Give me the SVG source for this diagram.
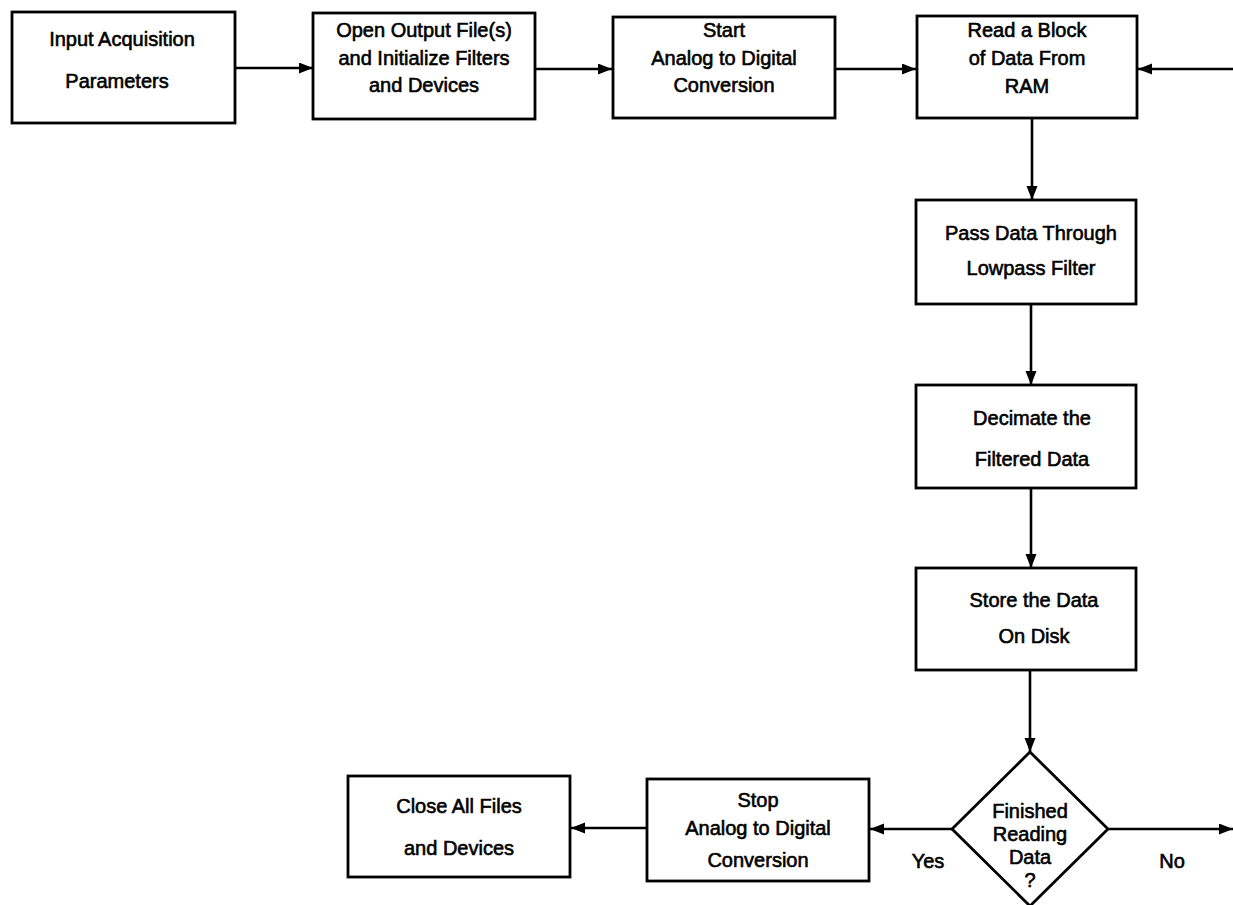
<svg xmlns="http://www.w3.org/2000/svg" width="1233" height="905" viewBox="0 0 1233 905">
  <style>
    .box { fill: #fff; stroke: #000; stroke-width: 2.8; }
    .conn { fill: none; stroke: #000; stroke-width: 2.6; }
    .lbl { font-family: "Liberation Sans", Arial, sans-serif; font-size: 20px; fill: #000; stroke: #000; stroke-width: 0.6; text-anchor: middle; }
  </style>
  <defs>
    <marker id="arrow" markerUnits="userSpaceOnUse" markerWidth="15" markerHeight="12" refX="14" refY="5.5" orient="auto">
      <path d="M0,0 L14,5.5 L0,11 z" fill="#000"/>
    </marker>
  </defs>
  <rect width="1233" height="905" fill="#fff"/>

  <!-- flow connectors -->
  <g id="connectors">
    <line class="conn" x1="235" y1="68" x2="313" y2="68" marker-end="url(#arrow)"/>
    <line class="conn" x1="535" y1="69" x2="612" y2="69" marker-end="url(#arrow)"/>
    <line class="conn" x1="835" y1="69" x2="916" y2="69" marker-end="url(#arrow)"/>
    <line class="conn" x1="1233" y1="69" x2="1138" y2="69" marker-end="url(#arrow)"/>
    <line class="conn" x1="1032" y1="118" x2="1032" y2="200" marker-end="url(#arrow)"/>
    <line class="conn" x1="1031" y1="304" x2="1031" y2="385" marker-end="url(#arrow)"/>
    <line class="conn" x1="1031" y1="488" x2="1031" y2="568" marker-end="url(#arrow)"/>
    <line class="conn" x1="1030" y1="670" x2="1030" y2="752" marker-end="url(#arrow)"/>
    <line class="conn" x1="1108" y1="829" x2="1233" y2="829" marker-end="url(#arrow)"/>
    <line class="conn" x1="952" y1="829" x2="870" y2="829" marker-end="url(#arrow)"/>
    <line class="conn" x1="647" y1="828" x2="571" y2="828" marker-end="url(#arrow)"/>
    <text class="lbl" x="928" y="868">Yes</text>
    <text class="lbl" x="1172" y="868">No</text>
  </g>

  <g id="input-params">
    <rect class="box" x="12" y="12" width="223" height="111"/>
    <text class="lbl" x="122" y="46">Input Acquisition</text>
    <text class="lbl" x="117" y="88">Parameters</text>
  </g>

  <g id="open-files">
    <rect class="box" x="313" y="13" width="222" height="106"/>
    <text class="lbl" x="424" y="37">Open Output File(s)</text>
    <text class="lbl" x="424" y="65">and Initialize Filters</text>
    <text class="lbl" x="424" y="92">and Devices</text>
  </g>

  <g id="start-adc">
    <rect class="box" x="613" y="17" width="222" height="101"/>
    <text class="lbl" x="724" y="37">Start</text>
    <text class="lbl" x="724" y="65">Analog to Digital</text>
    <text class="lbl" x="724" y="92">Conversion</text>
  </g>

  <g id="read-block">
    <rect class="box" x="917" y="16" width="220" height="102"/>
    <text class="lbl" x="1027" y="37">Read a Block</text>
    <text class="lbl" x="1027" y="65">of Data From</text>
    <text class="lbl" x="1027" y="93">RAM</text>
  </g>

  <g id="lowpass">
    <rect class="box" x="916" y="200" width="220" height="104"/>
    <text class="lbl" x="1031" y="240">Pass Data Through</text>
    <text class="lbl" x="1031" y="275">Lowpass Filter</text>
  </g>

  <g id="decimate">
    <rect class="box" x="916" y="385" width="220" height="103"/>
    <text class="lbl" x="1032" y="425">Decimate the</text>
    <text class="lbl" x="1032" y="466">Filtered Data</text>
  </g>

  <g id="store">
    <rect class="box" x="916" y="568" width="220" height="102"/>
    <text class="lbl" x="1034" y="607">Store the Data</text>
    <text class="lbl" x="1034" y="643">On Disk</text>
  </g>

  <g id="finished-decision">
    <polygon class="box" points="1030,752 1108,829 1030,906 952,829"/>
    <text class="lbl" x="1030" y="818">Finished</text>
    <text class="lbl" x="1030" y="841">Reading</text>
    <text class="lbl" x="1030" y="864">Data</text>
    <text class="lbl" x="1030" y="887">?</text>
  </g>

  <g id="stop-adc">
    <rect class="box" x="647" y="779" width="222" height="102"/>
    <text class="lbl" x="758" y="807">Stop</text>
    <text class="lbl" x="758" y="835">Analog to Digital</text>
    <text class="lbl" x="758" y="867">Conversion</text>
  </g>

  <g id="close-files">
    <rect class="box" x="348" y="776" width="222" height="101"/>
    <text class="lbl" x="459" y="813">Close All Files</text>
    <text class="lbl" x="459" y="855">and Devices</text>
  </g>
</svg>
